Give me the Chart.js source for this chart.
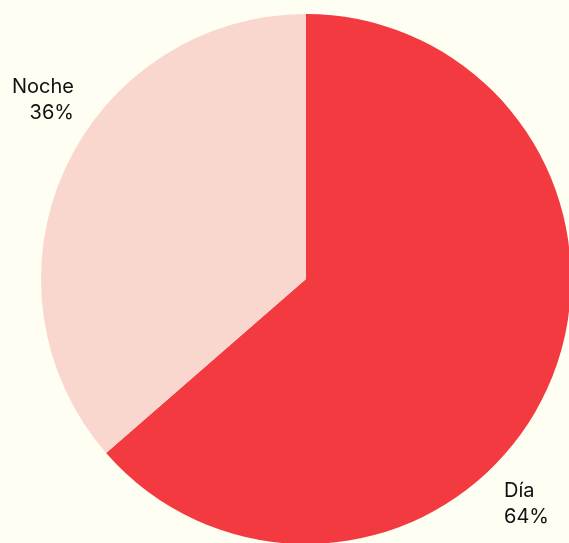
<!DOCTYPE html>
<html>
<head>
<meta charset="utf-8">
<script src="https://cdn.jsdelivr.net/npm/chart.js@4"></script>
<style>
  html, body { margin: 0; padding: 0; background: #FFFEF2; }
  #wrap { position: relative; width: 569px; height: 543px; overflow: hidden; }
  #pie { position: absolute; left: 0; top: 0; }
</style>
</head>
<body>
<div id="wrap"><canvas id="pie" width="620" height="600"></canvas></div>
<script>
// data
const categories = ['Día', 'Noche'];
const values = [63.6, 36.4];
const colors = ['#F23A40', '#F9D7CF'];

// label anchors, offset from pie centre (px) and text alignment
const labelSpots = [
  { dx: 198, dy: 218, align: 'left' },
  { dx: -232, dy: -186, align: 'right' }
];

const pieLabels = {
  id: 'pieLabels',
  afterDraw(chart) {
    const c = chart.ctx;
    const arcs = chart.getDatasetMeta(0).data;
    c.save();
    c.fillStyle = '#111111';
    c.font = '20px Inter, "Noto Sans", sans-serif';
    arcs.forEach(function (arc, i) {
      const s = labelSpots[i];
      const x = arc.x + s.dx, y = arc.y + s.dy;
      c.textAlign = s.align;
      c.fillText(categories[i], x, y);
      c.fillText(Math.round(values[i]) + '%', x, y + 26);
    });
    c.restore();
  }
};

new Chart(document.getElementById('pie').getContext('2d'), {
  type: 'pie',
  data: {
    labels: categories,
    datasets: [{
      data: values,
      backgroundColor: colors,
      borderWidth: 0
    }]
  },
  options: {
    responsive: false,
    animation: false,
    layout: { padding: { left: 41, top: 14, right: 49, bottom: 56 } },
    plugins: {
      legend: { display: false },
      tooltip: { enabled: false }
    }
  },
  plugins: [pieLabels]
});
</script>
</body>
</html>
